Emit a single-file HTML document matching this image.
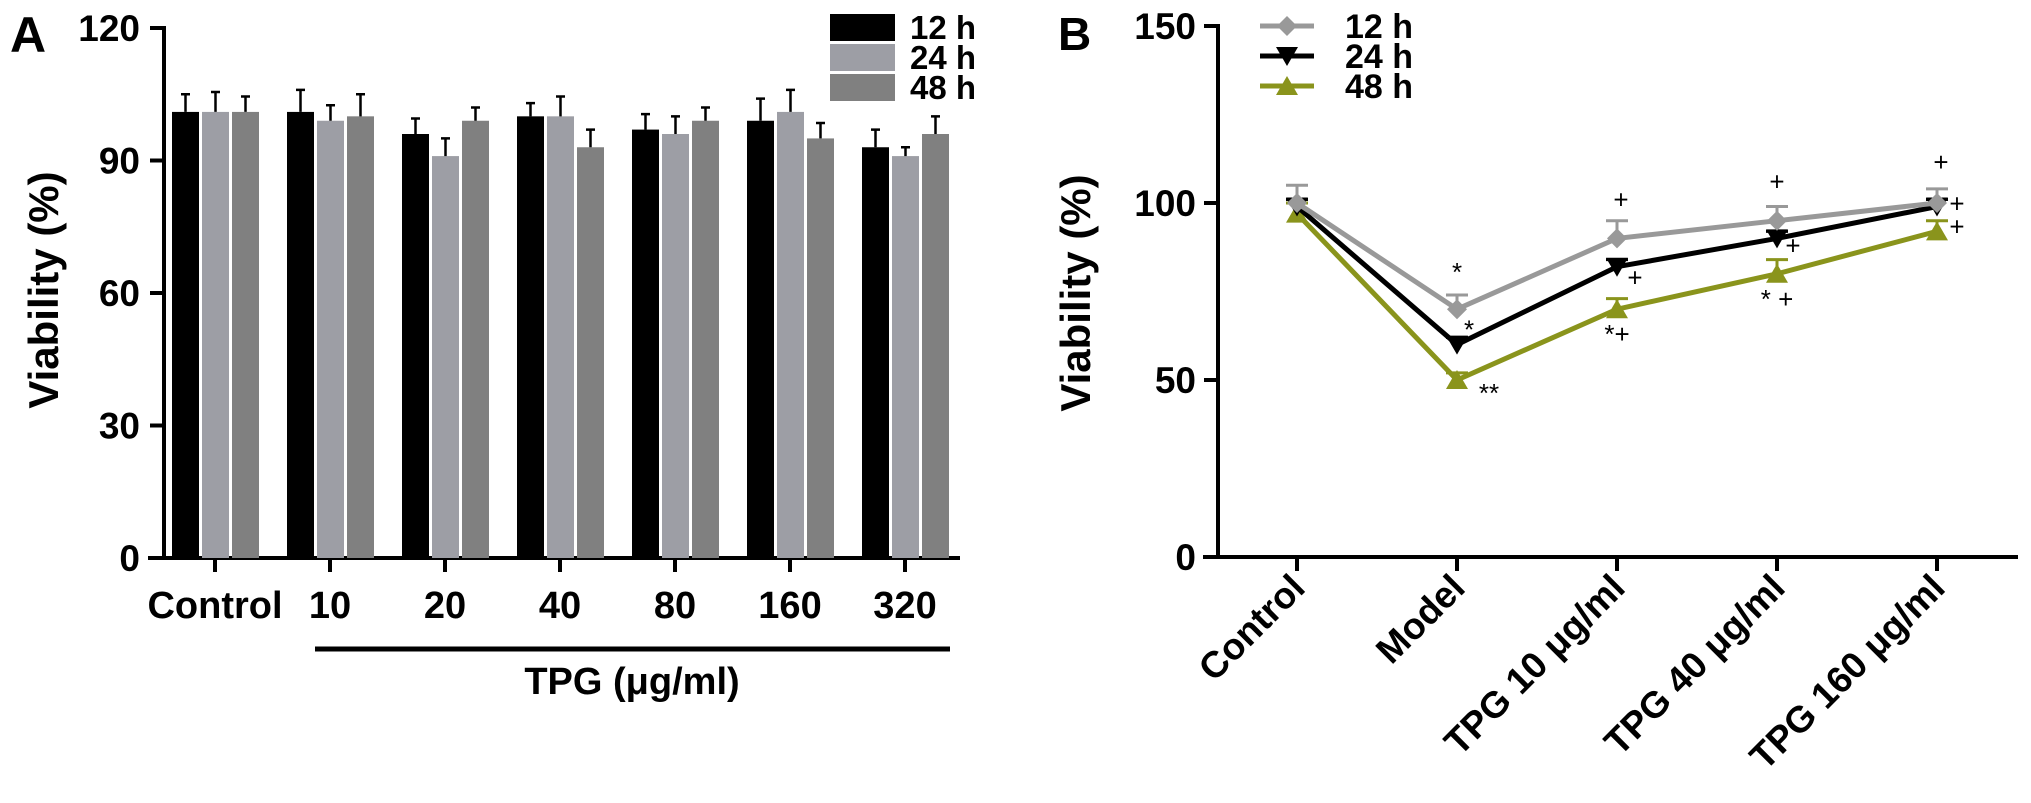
<!DOCTYPE html>
<html><head><meta charset="utf-8"><style>
html,body{margin:0;padding:0;background:#fff;}
svg{display:block;font-family:"Liberation Sans",Arial,sans-serif;font-weight:bold;}
</style></head><body>
<svg id="fig" width="2031" height="803" viewBox="0 0 2031 803" xmlns="http://www.w3.org/2000/svg">
<g id="panelA"></g>
<g id="panelB"></g>
</svg>
<script>
// ---- Panel A data ----
const catsA = ["Control","10","20","40","80","160","320"];
const seriesA = ["12 h","24 h","48 h"];
const valsA12 = [101,101,96,100,97,99,93];
const valsA24 = [101,99,91,100,96,101,91];
const valsA48 = [101,100,99,93,99,95,96];
const errA12 = [4,5,3.5,3,3.5,5,4];
const errA24 = [4.5,3.5,4,4.5,4,5,2];
const errA48 = [3.5,5,3,4,3,3.5,4];
const ticksA = [0,30,60,90,120];
// ---- Panel B data ----
const catsB = ["Control","Model","TPG 10 μg/ml","TPG 40 μg/ml","TPG 160 μg/ml"];
const seriesB = ["12 h","24 h","48 h"];
const valsB12 = [100,70,90,95,100];
const valsB24 = [99,60,82,90,99];
const valsB48 = [97,50,70,80,92];
const errB12 = [5,4,5,4,4];
const errB24 = [2,2,2,2,2];
const errB48 = [3,2,3,4,3];
const ticksB = [0,50,100,150];
const annotB = [
  {c:1,v:70,t:"*",dx:0,dy:-28},{c:1,v:60,t:"*",dx:12,dy:-6},{c:1,v:50,t:"**",dx:32,dy:22},
  {c:2,v:90,t:"+",dx:4,dy:-30},{c:2,v:82,t:"+",dx:18,dy:20},{c:2,v:70,t:"*+",dx:0,dy:34},
  {c:3,v:95,t:"+",dx:0,dy:-30},{c:3,v:90,t:"+",dx:16,dy:16},{c:3,v:80,t:"* +",dx:0,dy:34},
  {c:4,v:100,t:"+",dx:4,dy:-32},{c:4,v:99,t:"+",dx:20,dy:6},{c:4,v:92,t:"+",dx:20,dy:4}
];

const NS="http://www.w3.org/2000/svg";
function mk(parent,tag,attrs,text){const e=document.createElementNS(NS,tag);for(const k in attrs)e.setAttribute(k,attrs[k]);if(text!==undefined)e.textContent=text;parent.appendChild(e);return e;}

// ===== Panel A =====
(function(){
const g=document.getElementById('panelA');
const x0=164,y0=558,yTop=28,maxV=120;
const y=v=>y0-(v/maxV)*(y0-yTop);
const cx=i=>215+i*115;
let t=mk(g,'text',{x:10,y:52,'font-size':50});
t.textContent='A';
let ax=mk(g,'line',{x1:x0,y1:yTop-2,x2:x0,y2:y0+2,stroke:'#000','stroke-width':4});

let xa=mk(g,'line',{x1:148,y1:y0,x2:960,y2:y0,stroke:'#000','stroke-width':4});

ticksA.forEach(v=>{
  let l=mk(g,'line',{x1:150,y1:y(v),x2:x0,y2:y(v),stroke:'#000','stroke-width':4});
  
  let tl=mk(g,'text',{x:140,y:y(v)+13,'font-size':37,'text-anchor':'end'},String(v));
  
});
let yt=mk(g,'text',{transform:'translate(58,290) rotate(-90)','font-size':42,'text-anchor':'middle'},'Viability (%)');

const vals=[valsA12,valsA24,valsA48],errs=[errA12,errA24,errA48];
const cols=['#000000','#9d9ea5','#808080'];
catsA.forEach((c,i)=>{
  let tk=mk(g,'line',{x1:cx(i),y1:y0,x2:cx(i),y2:y0+14,stroke:'#000','stroke-width':4});
  
  let lb=mk(g,'text',{x:cx(i),y:618,'font-size':38,'text-anchor':'middle'},c);
  
  for(let s=0;s<3;s++){
    const bx=cx(i)-43+s*30,v=vals[s][i],e=errs[s][i];
    let r=mk(g,'rect',{x:bx,y:y(v),width:27,height:y0-y(v),fill:cols[s]});
    
    let eb=mk(g,'path',{d:`M${bx+13.5},${y(v)} V${y(v+e)} M${bx+9},${y(v+e)} H${bx+18}`,stroke:'#000','stroke-width':2.5,fill:'none'});
    
  }
});
let br=mk(g,'line',{x1:315,y1:649,x2:950,y2:649,stroke:'#000','stroke-width':5});

let bt=mk(g,'text',{x:632,y:694,'font-size':38,'text-anchor':'middle'},'TPG (μg/ml)');

seriesA.forEach((s,k)=>{
  let sw=mk(g,'rect',{x:830,y:14+k*30,width:65,height:27,fill:cols[k]});
  
  let lt=mk(g,'text',{x:910,y:39+k*30,'font-size':33},s);
  
});
})();

// ===== Panel B =====
(function(){
const g=document.getElementById('panelB');
const x0=1218,y0=557,yTop=26,maxV=150;
const y=v=>y0-(v/maxV)*(y0-yTop);
const cx=i=>1297+i*160;
let t=mk(g,'text',{x:1058,y:50,'font-size':46},'B');

let ax=mk(g,'line',{x1:x0,y1:yTop-2,x2:x0,y2:y0+2,stroke:'#000','stroke-width':4});

let xa=mk(g,'line',{x1:1203,y1:y0,x2:2018,y2:y0,stroke:'#000','stroke-width':4});

ticksB.forEach(v=>{
  let l=mk(g,'line',{x1:1204,y1:y(v),x2:x0,y2:y(v),stroke:'#000','stroke-width':4});
  
  let tl=mk(g,'text',{x:1196,y:y(v)+13,'font-size':37,'text-anchor':'end'},String(v));
  
});
let yt=mk(g,'text',{transform:'translate(1090,293) rotate(-90)','font-size':42,'text-anchor':'middle'},'Viability (%)');

catsB.forEach((c,i)=>{
  let tk=mk(g,'line',{x1:cx(i),y1:y0,x2:cx(i),y2:y0+14,stroke:'#000','stroke-width':4});
  
  let lb=mk(g,'text',{transform:`translate(${cx(i)+10},590) rotate(-45)`,'font-size':37,'text-anchor':'end'},c);
  
});
const vals=[valsB12,valsB24,valsB48],errs=[errB12,errB24,errB48];
const cols=['#999999','#000000','#8a941c'];
const marker=(k,px,py,parent)=>{
  if(k===0) return mk(parent,'path',{d:`M${px},${py-10} L${px+10},${py} L${px},${py+10} L${px-10},${py} Z`,fill:cols[0]});
  if(k===1) return mk(parent,'path',{d:`M${px-11},${py-9} L${px+11},${py-9} L${px},${py+10} Z`,fill:cols[1]});
  return mk(parent,'path',{d:`M${px-11},${py+9} L${px+11},${py+9} L${px},${py-10} Z`,fill:cols[2]});
};
for(let k=2;k>=0;k--){
  const sg=mk(g,'g',{});
  
  let d='';vals[k].forEach((v,i)=>{d+=(i?'L':'M')+cx(i)+','+y(v)+' ';});
  let ln=mk(sg,'path',{d:d,stroke:cols[k],'stroke-width':5,fill:'none'});
  
  vals[k].forEach((v,i)=>{
    const e=errs[k][i];
    let eb=mk(sg,'path',{d:`M${cx(i)},${y(v)} V${y(v+e)} M${cx(i)-11},${y(v+e)} H${cx(i)+11}`,stroke:cols[k],'stroke-width':3,fill:'none'});
    
    let m=marker(k,cx(i),y(v),sg);
    
  });
}
annotB.forEach(a=>{
  let tx=mk(g,'text',{x:cx(a.c)+a.dx,y:y(a.v)+a.dy,'font-size':26,'font-weight':'normal','text-anchor':'middle'},a.t);
  
});
seriesB.forEach((s,k)=>{
  const ly=26+k*30;
  let ll=mk(g,'line',{x1:1260,y1:ly,x2:1314,y2:ly,stroke:cols[k],'stroke-width':5});
  
  let lm=marker(k,1287,ly,g);
  
  let lt=mk(g,'text',{x:1345,y:ly+12,'font-size':34},s);
  
});
})();
</script>
</body></html>
